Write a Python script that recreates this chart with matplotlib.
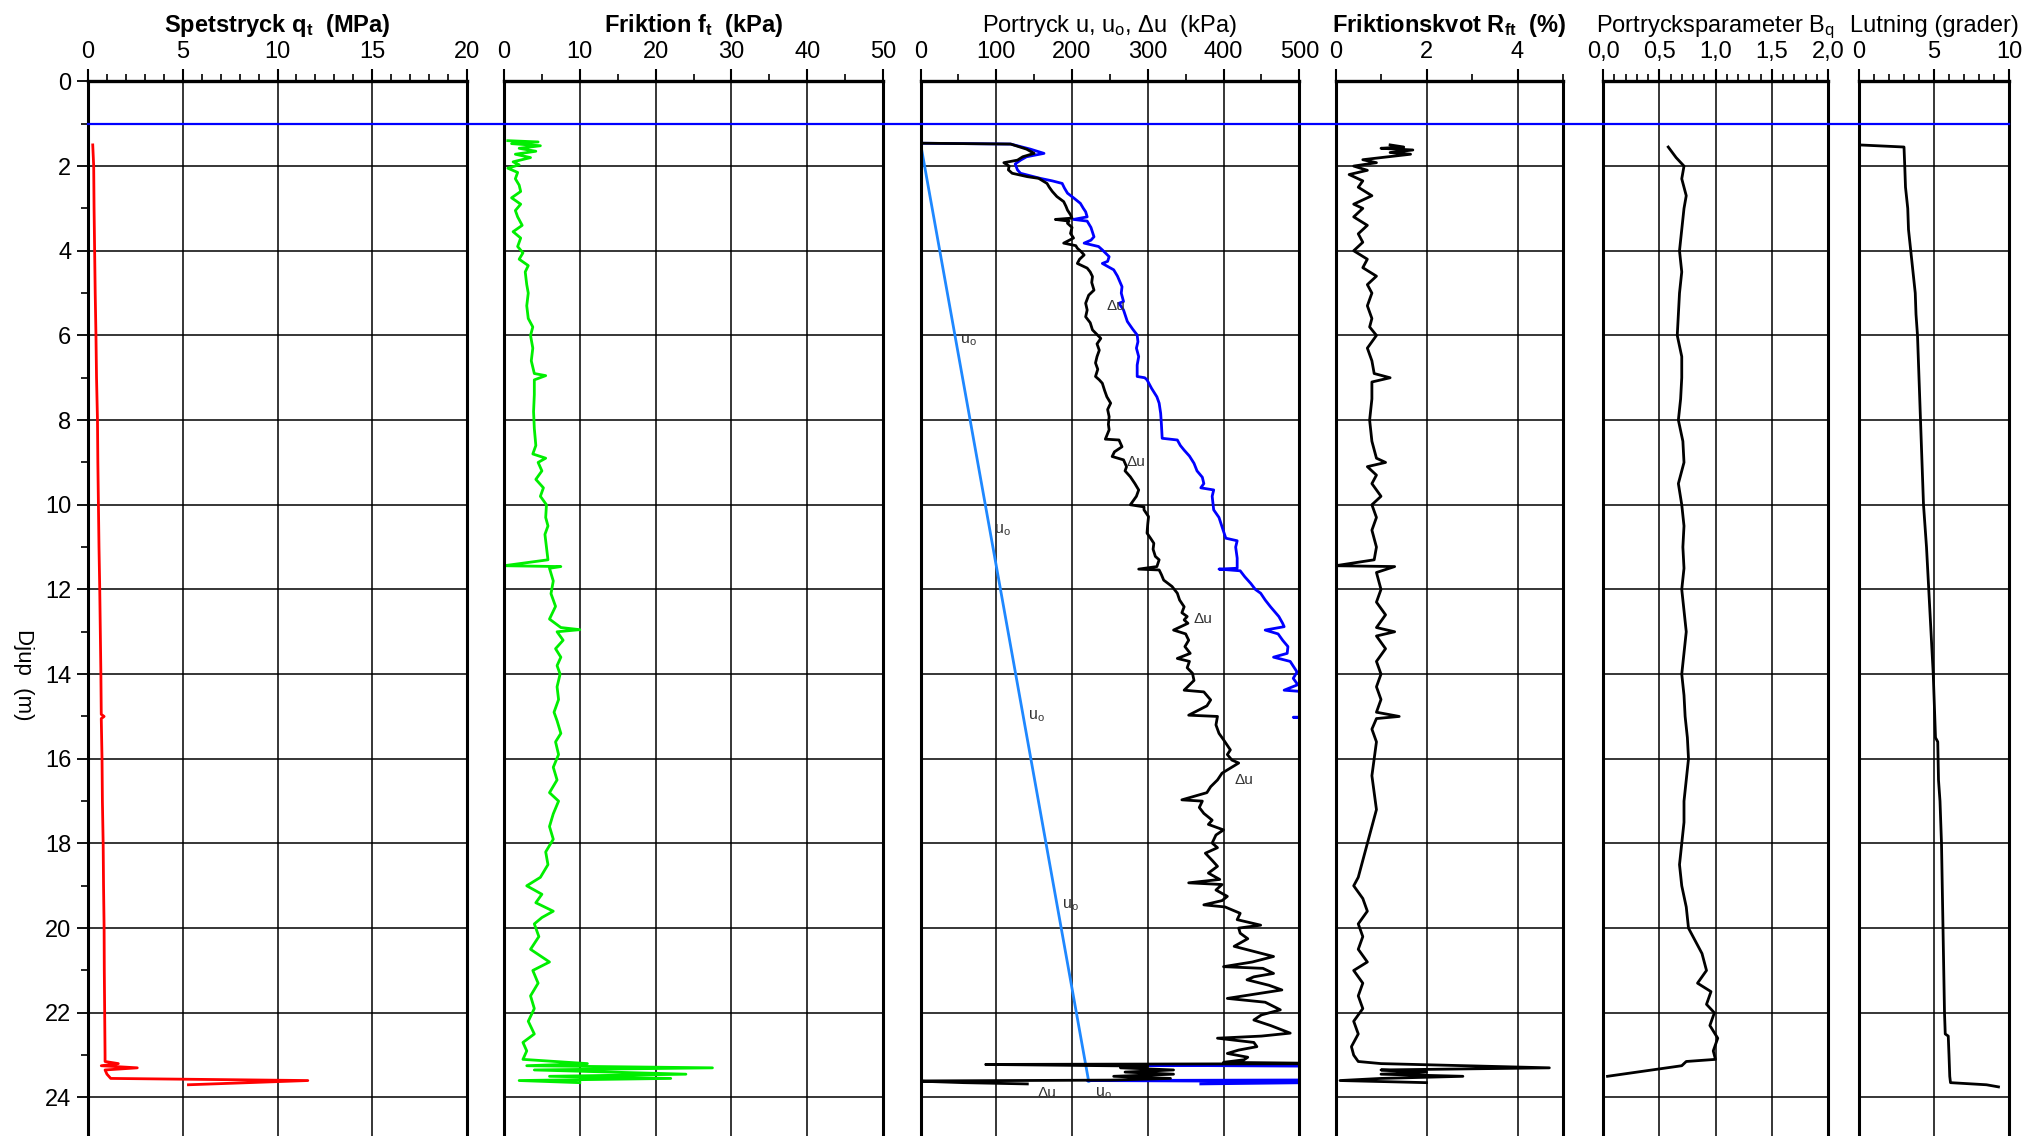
import matplotlib.pyplot as plt
from matplotlib.ticker import MultipleLocator, FixedLocator, FixedFormatter
from matplotlib.lines import Line2D
from matplotlib import transforms

plt.rcParams['font.family'] = ['Liberation Sans', 'DejaVu Sans']

# grundvattenyta / djup for bla linje
gw_depth = 1.0

# spetstryck qt (MPa)
qt_d = [1.50, 2.0, 3.0, 4.0, 5.0, 6.0, 7.0, 8.0, 9.0, 10.0, 11.0, 12.0, 13.0, 14.0, 14.95, 15.0, 15.05,
        16.0, 17.0, 18.0, 19.0, 20.0, 21.0, 22.0, 23.0, 23.15, 23.2, 23.25, 23.3, 23.35, 23.45, 23.55,
        23.6, 23.7]
qt_v = [0.25, 0.30, 0.32, 0.35, 0.38, 0.42, 0.45, 0.50, 0.52, 0.55, 0.58, 0.62, 0.65, 0.68, 0.70, 0.85, 0.70,
        0.74, 0.76, 0.80, 0.82, 0.85, 0.86, 0.88, 0.90, 0.90, 1.6, 0.7, 2.6, 0.9, 1.0, 1.2,
        11.6, 5.3]

# friktion ft (kPa)
fs_d = [1.40, 1.43, 1.47, 1.52, 1.58, 1.65, 1.72, 1.80, 1.90, 1.97, 2.05, 2.15, 2.30, 2.45, 2.60, 2.75,
        2.90, 3.05, 3.20, 3.40, 3.55, 3.70, 3.90, 4.05, 4.20, 4.35, 4.50, 4.80, 5.00, 5.30, 5.60, 5.80,
        6.00, 6.30, 6.60, 6.90, 6.95, 7.05, 7.40, 7.80, 8.20, 8.60, 8.80, 8.90, 9.00, 9.20, 9.40, 9.60,
        9.80, 10.0, 10.3, 10.5, 10.7, 11.0, 11.3, 11.44, 11.46, 11.5, 11.8, 12.1, 12.4, 12.7, 12.9, 12.95,
        13.0, 13.2, 13.4, 13.6, 13.8, 14.0, 14.3, 14.6, 14.9, 15.1, 15.4, 15.6, 15.9, 16.2, 16.5, 16.8,
        17.0, 17.3, 17.6, 17.9, 18.2, 18.5, 18.8, 19.0, 19.2, 19.4, 19.6, 19.75, 19.9, 20.2, 20.5, 20.8,
        21.0, 21.3, 21.6, 21.9, 22.2, 22.5, 22.7, 22.9, 23.1, 23.2, 23.25, 23.3, 23.35, 23.45, 23.5, 23.55,
        23.6, 23.65]
fs_v = [0.5, 4.5, 1.0, 4.8, 2.0, 4.2, 1.5, 3.5, 1.2, 2.0, 0.5, 1.8, 1.5, 2.0, 2.2, 1.0,
        2.2, 1.5, 1.8, 2.4, 1.2, 2.2, 1.8, 2.5, 2.0, 3.2, 2.8, 3.0, 3.2, 3.0, 3.2, 3.8,
        3.5, 3.8, 3.6, 4.0, 5.5, 4.0, 4.0, 3.9, 4.0, 4.2, 3.8, 5.5, 4.5, 5.0, 4.2, 5.2,
        4.8, 5.6, 5.5, 5.8, 5.4, 5.6, 5.8, 0.0, 7.5, 6.0, 6.5, 6.2, 6.8, 6.0, 7.5, 10.0,
        7.0, 7.8, 6.8, 7.5, 7.0, 7.4, 7.0, 7.2, 6.6, 7.0, 7.5, 6.8, 7.2, 6.5, 7.0, 6.0,
        7.2, 6.5, 6.0, 6.5, 5.5, 5.8, 4.8, 3.0, 5.0, 4.2, 6.5, 5.0, 4.0, 4.6, 3.5, 6.0,
        3.8, 4.5, 3.5, 4.0, 3.2, 4.0, 2.5, 3.0, 2.5, 11.0, 3.0, 27.5, 4.0, 24.0, 6.0, 22.0,
        2.0, 10.0]

# portryck u (kPa)
u_d = [1.46, 1.48, 1.60, 1.70, 1.78, 1.86, 1.95, 2.09, 2.17, 2.29, 2.35, 2.41, 2.52, 2.64, 2.75, 2.88,
       3.00, 3.08, 3.20, 3.26, 3.30, 3.45, 3.67, 3.75, 3.82, 3.90, 3.98, 4.14, 4.25, 4.30, 4.40, 4.45,
       4.60, 4.85, 5.00, 5.20, 5.24, 5.40, 5.67, 5.85, 5.99, 6.15, 6.30, 6.50, 6.70, 6.97, 7.00, 7.05,
       7.25, 7.45, 7.60, 7.84, 8.10, 8.43, 8.47, 8.60, 8.71, 8.85, 9.02, 9.20, 9.35, 9.50, 9.60, 9.65,
       9.80, 10.12, 10.30, 10.52, 10.79, 10.85, 11.00, 11.26, 11.50, 11.52, 11.56, 11.70, 11.86, 12.00,
       12.09, 12.25, 12.41, 12.64, 12.80, 12.88, 12.96, 13.05, 13.20, 13.35, 13.51, 13.60, 13.70, 13.95,
       14.10, 14.25, 14.38, 14.42, 15.00, 15.02, 15.04, 23.15, 23.22, 23.24, 23.27, 23.32, 23.38, 23.50,
       23.58, 23.60, 23.63, 23.68]
u_v = [0, 119, 145, 163, 140, 132, 125, 128, 132, 158, 174, 187, 190, 194, 202, 211,
       215, 218, 220, 202, 220, 225, 229, 225, 216, 235, 240, 249, 247, 240, 250, 255,
       260, 266, 265, 268, 262, 268, 273, 280, 286, 287, 285, 288, 286, 286, 296, 299,
       305, 312, 315, 317, 318, 319, 339, 343, 348, 355, 361, 365, 372, 374, 370, 387,
       385, 387, 394, 398, 403, 418, 416, 418, 418, 394, 422, 428, 436, 442,
       449, 455, 462, 473, 478, 480, 455, 472, 478, 485, 484, 466, 488, 497,
       492, 498, 480, 510, 540, 492, 540, 640, 640, 300, 620, 500, 620, 640,
       650, 220, 610, 370]

# hydrostatiskt portryck u0 (kPa)
u0_d = [1.46, 23.62]
u0_v = [0, 222]

# portrycksokning du (kPa)
du_d = [1.46, 1.48, 1.60, 1.70, 1.78, 1.86, 1.92, 2.00, 2.09, 2.17, 2.25, 2.29, 2.41, 2.50, 2.60, 2.72,
        2.84, 2.95, 3.04, 3.15, 3.23, 3.26, 3.30, 3.35, 3.45, 3.59, 3.70, 3.82, 3.88, 3.94, 4.02, 4.10,
        4.20, 4.30, 4.41, 4.50, 4.61, 4.75, 4.93, 5.05, 5.24, 5.40, 5.56, 5.70, 5.87, 6.07, 6.20, 6.35,
        6.50, 6.65, 6.80, 6.97, 7.05, 7.13, 7.30, 7.45, 7.60, 7.75, 7.92, 8.10, 8.23, 8.45, 8.47, 8.63,
        8.75, 8.86, 8.94, 9.10, 9.20, 9.34, 9.50, 9.65, 9.80, 10.00, 10.05, 10.12, 10.28, 10.45, 10.67,
        10.80, 10.91, 11.05, 11.22, 11.30, 11.46, 11.52, 11.54, 11.65, 11.78, 11.93, 12.09, 12.25, 12.41,
        12.55, 12.64, 12.72, 12.80, 12.96, 13.05, 13.20, 13.35, 13.51, 13.63, 13.70, 13.85, 13.98, 14.15,
        14.38, 14.42, 14.61, 14.75, 14.97, 15.00, 15.20, 15.40, 15.55, 15.79, 15.90, 16.03, 16.10, 16.34,
        16.50, 16.66, 16.80, 16.97, 17.00, 17.15, 17.29, 17.45, 17.55, 17.68, 17.80, 17.99, 18.10, 18.23,
        18.40, 18.54, 18.70, 18.85, 18.93, 18.97, 19.10, 19.25, 19.35, 19.45, 19.50, 19.65, 19.80, 19.93,
        20.00, 20.12, 20.25, 20.43, 20.55, 20.67, 20.80, 20.91, 20.95, 21.07, 21.15, 21.22, 21.35, 21.46,
        21.55, 21.66, 21.75, 21.93, 22.05, 22.17, 22.30, 22.48, 22.55, 22.60, 22.70, 22.80, 22.88, 22.96,
        23.05, 23.11, 23.17, 23.20, 23.22, 23.26, 23.30, 23.35, 23.40, 23.45, 23.50, 23.55, 23.59, 23.61,
        23.65, 23.68]
du_v = [0, 119, 140, 150, 135, 128, 110, 117, 116, 121, 141, 156, 167, 170, 174, 180,
        189, 192, 194, 198, 200, 178, 196, 194, 200, 198, 202, 189, 205, 207, 212, 216,
        210, 207, 220, 224, 227, 226, 229, 222, 218, 220, 218, 224, 227, 238, 233, 236,
        233, 231, 234, 231, 236, 240, 243, 246, 251, 247, 249, 248, 249, 244, 262, 266,
        256, 253, 268, 272, 270, 277, 283, 288, 285, 277, 295, 295, 301, 300, 299,
        304, 308, 307, 310, 315, 312, 288, 315, 318, 321, 332, 339, 342, 348,
        345, 352, 348, 353, 334, 350, 354, 349, 356, 339, 355, 352, 359, 361,
        348, 374, 383, 378, 354, 392, 390, 394, 400, 409, 405, 411, 420, 398,
        392, 383, 378, 345, 372, 368, 374, 385, 380, 400, 390, 385, 392, 376,
        385, 392, 380, 395, 354, 398, 390, 405, 398, 374, 402, 422, 418, 449,
        420, 422, 432, 414, 440, 466, 438, 400, 452, 466, 440, 431, 460, 477,
        445, 405, 455, 475, 450, 440, 462, 488, 450, 392, 440, 444, 420, 405,
        432, 427, 400, 560, 86, 300, 264, 334, 270, 334, 255, 330, 251, -10,
        57, 141]

# friktionskvot Rft (%)
rf_d = [1.50, 1.55, 1.58, 1.62, 1.68, 1.72, 1.80, 1.85, 1.92, 2.0, 2.1, 2.2, 2.35, 2.5, 2.7, 2.9,
        3.0, 3.2, 3.4, 3.6, 3.8, 4.0, 4.2, 4.4, 4.6, 4.8, 5.0, 5.3, 5.6, 5.8, 6.0, 6.3,
        6.6, 6.9, 7.0, 7.1, 7.5, 8.0, 8.5, 8.9, 9.0, 9.1, 9.3, 9.5, 9.8, 10.0, 10.3, 10.6,
        11.0, 11.3, 11.44, 11.46, 11.6, 12.0, 12.3, 12.6, 12.9, 13.0, 13.1, 13.4, 13.7, 14.0, 14.3, 14.6,
        14.9, 15.0, 15.05, 15.3, 15.6, 16.0, 16.4, 16.8, 17.2, 17.6, 18.0, 18.4, 18.8, 19.0, 19.3, 19.6,
        19.9, 20.2, 20.5, 20.8, 21.0, 21.3, 21.6, 21.9, 22.2, 22.5, 22.8, 23.0, 23.15, 23.2, 23.3, 23.35,
        23.4, 23.45, 23.5, 23.55, 23.6, 23.65]
rf_v = [1.2, 1.5, 1.0, 1.7, 1.2, 1.65, 1.0, 0.6, 0.9, 0.4, 0.7, 0.3, 0.6, 0.5, 0.8, 0.4,
        0.6, 0.4, 0.7, 0.5, 0.6, 0.4, 0.7, 0.6, 0.9, 0.7, 0.8, 0.7, 0.8, 0.75, 0.9, 0.7,
        0.8, 0.85, 1.2, 0.8, 0.8, 0.75, 0.8, 0.9, 1.1, 0.7, 0.9, 0.8, 1.0, 0.8, 0.9, 0.8,
        0.9, 0.85, 0.0, 1.3, 0.9, 1.0, 0.9, 1.1, 0.9, 1.3, 0.9, 1.1, 0.9, 1.0, 0.9, 1.0,
        0.9, 1.4, 0.9, 0.8, 0.9, 0.85, 0.8, 0.85, 0.9, 0.8, 0.7, 0.6, 0.5, 0.4, 0.6, 0.7,
        0.5, 0.6, 0.5, 0.7, 0.4, 0.6, 0.5, 0.6, 0.4, 0.5, 0.35, 0.4, 0.5, 1.0, 4.7, 1.0,
        2.0, 1.0, 2.8, 1.0, 0.1, 2.0]

# portrycksparameter Bq (-)
bq_d = [1.55, 1.8, 2.0, 2.3, 2.7, 3.0, 3.5, 4.0, 4.5, 5.0, 5.5, 6.0, 6.5, 7.0, 7.5, 8.0,
        8.5, 9.0, 9.5, 10.0, 10.5, 11.0, 11.5, 12.0, 12.5, 13.0, 13.5, 14.0, 14.5, 15.0, 15.5, 16.0,
        16.5, 17.0, 17.5, 18.0, 18.5, 19.0, 19.5, 20.0, 20.3, 20.6, 21.0, 21.3, 21.5, 21.8, 22.0, 22.3,
        22.6, 22.9, 23.1, 23.15, 23.25, 23.5]
bq_v = [0.58, 0.65, 0.72, 0.70, 0.74, 0.72, 0.70, 0.68, 0.70, 0.68, 0.67, 0.66, 0.70, 0.70, 0.69, 0.67,
        0.71, 0.72, 0.67, 0.70, 0.72, 0.71, 0.72, 0.70, 0.72, 0.74, 0.72, 0.70, 0.72, 0.73, 0.75, 0.76,
        0.74, 0.72, 0.72, 0.70, 0.68, 0.70, 0.74, 0.76, 0.82, 0.88, 0.92, 0.84, 0.96, 0.92, 0.99, 0.95,
        1.02, 0.98, 1.00, 0.74, 0.70, 0.04]

# lutning (grader)
lut_d = [1.50, 1.55, 2.0, 2.5, 3.0, 3.5, 4.0, 4.5, 5.0, 5.5, 6.0, 7.0, 8.0, 9.0, 10.0, 10.5,
         11.0, 12.0, 13.0, 14.0, 15.0, 15.5, 15.6, 16.5, 17.0, 18.0, 19.0, 20.0, 21.0, 22.0, 22.5, 22.55,
         23.0, 23.5, 23.65, 23.7, 23.75]
lut_v = [0.0, 3.0, 3.05, 3.1, 3.25, 3.3, 3.45, 3.6, 3.75, 3.8, 3.9, 4.0, 4.1, 4.2, 4.3, 4.4,
         4.5, 4.65, 4.8, 4.95, 5.05, 5.1, 5.25, 5.3, 5.4, 5.5, 5.55, 5.6, 5.65, 5.7, 5.75, 5.95,
         6.0, 6.05, 6.1, 8.5, 9.3]

# etiketter i portryckspanelen
u0_lab_d = [6.1, 10.6, 15.0, 19.45, 23.9]
du_lab_d = [5.3, 9.0, 12.7, 16.5, 23.9]
du_lab_u = [242, 268, 356, 411, 150]

titles = ['Spetstryck q$\\mathregular{_t}$  (MPa)', 'Friktion f$\\mathregular{_t}$  (kPa)',
          'Portryck u, u$\\mathregular{_o}$, \u0394u  (kPa)', 'Friktionskvot R$\\mathregular{_{ft}}$  (%)',
          'Portrycksparameter B$\\mathregular{_q}$', 'Lutning (grader)']
bold = [True, True, False, True, False, False]
xlims = [(0, 20), (0, 50), (0, 500), (0, 5), (0, 2), (0, 10)]
xmajor = [[0, 5, 10, 15, 20], [0, 10, 20, 30, 40, 50], [0, 100, 200, 300, 400, 500],
          [0, 2, 4], [0, 0.5, 1.0, 1.5, 2.0], [0, 5, 10]]
xmajor_lab = [['0', '5', '10', '15', '20'], ['0', '10', '20', '30', '40', '50'],
              ['0', '100', '200', '300', '400', '500'], ['0', '2', '4'],
              ['0,0', '0,5', '1,0', '1,5', '2,0'], ['0', '5', '10']]
xminor = [1, 5, 50, 1, 0.1, 1]

W, H = 2027, 1136
top_px = 81.4
panels_px = [(88, 467), (504, 883), (920.5, 1299.3), (1335.5, 1563), (1603, 1828), (1859, 2009)]

fig = plt.figure(figsize=(W / 100, H / 100), dpi=100)

axs = []
for i, (x0, x1) in enumerate(panels_px):
    ax = fig.add_axes([x0 / W, 0, (x1 - x0) / W, 1 - top_px / H])
    ax.set_xlim(*xlims[i])
    ax.set_ylim(24.91, 0)
    ax.xaxis.tick_top()
    ax.xaxis.set_major_locator(FixedLocator(xmajor[i]))
    ax.xaxis.set_major_formatter(FixedFormatter(xmajor_lab[i]))
    ax.xaxis.set_minor_locator(MultipleLocator(xminor[i]))
    ax.yaxis.set_major_locator(MultipleLocator(2))
    ax.yaxis.set_minor_locator(MultipleLocator(1))
    ax.tick_params(axis='x', which='major', direction='out', length=9, width=1.5, labelsize=17, pad=4)
    ax.tick_params(axis='x', which='minor', direction='out', length=5, width=1.2)
    if i == 0:
        ax.tick_params(axis='y', which='major', direction='out', length=8, width=1.3, labelsize=17, pad=4)
        ax.tick_params(axis='y', which='minor', direction='out', length=5, width=1.2)
    else:
        ax.tick_params(axis='y', which='both', left=False, labelleft=False)
    ax.grid(True, which='major', color='black', lw=1.1)
    ax.spines['bottom'].set_visible(False)
    ax.spines['top'].set_linewidth(2.4)
    ax.spines['left'].set_linewidth(2.2)
    ax.spines['right'].set_linewidth(2.2)
    cx = (x0 + x1) / 2 / W
    fig.text(cx, 1 - 32 / H, titles[i], ha='center', va='baseline', fontsize=17,
             fontweight='bold' if bold[i] else 'normal')
    axs.append(ax)

fig.text(23 / W, 1 - 675 / H, 'Djup  (m)', rotation=270, ha='center', va='center', fontsize=16)

lw = 2.0
axs[0].plot(qt_v, qt_d, color='#ff0000', lw=lw)
axs[1].plot(fs_v, fs_d, color='#00ee00', lw=lw)
axs[2].plot(u0_v, u0_d, color='#1e88ff', lw=lw)
axs[2].plot(u_v, u_d, color='#0000ff', lw=lw)
axs[2].plot(du_v, du_d, color='black', lw=lw)
axs[3].plot(rf_v, rf_d, color='black', lw=lw)
axs[4].plot(bq_v, bq_d, color='black', lw=lw)
axs[5].plot(lut_v, lut_d, color='black', lw=lw)

# etiketter u0 och du
for d in u0_lab_d:
    uu = u0_v[0] + (u0_v[1] - u0_v[0]) * (d - u0_d[0]) / (u0_d[1] - u0_d[0])
    axs[2].text(uu + 6, d, 'u$\\mathregular{_o}$', fontsize=11.5, color='#333333', va='center')
for d, uu in zip(du_lab_d, du_lab_u):
    axs[2].text(uu + 4, d, '\u0394u', fontsize=11, color='#333333', va='center')

# bla linje over alla paneler
tr = transforms.blended_transform_factory(fig.transFigure, axs[0].transData)
fig.add_artist(Line2D([panels_px[0][0] / W, panels_px[-1][1] / W], [gw_depth, gw_depth],
                      transform=tr, color='#0000ff', lw=1.6))

fig.savefig('out.png', dpi=100)
